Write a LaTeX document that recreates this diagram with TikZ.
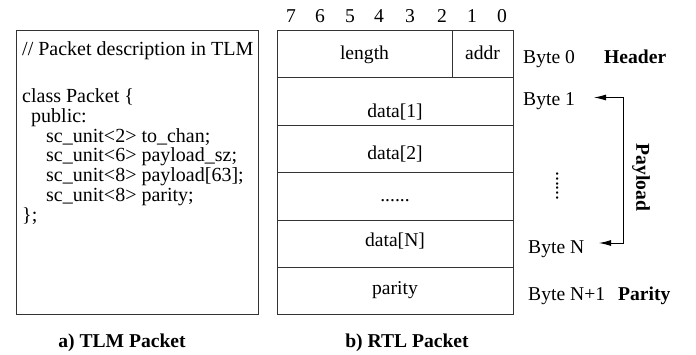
\documentclass[tikz,border=0pt]{standalone}
\usepackage{fontspec}
\setmainfont{Liberation Serif}
\usetikzlibrary{arrows.meta}
\begin{document}
\begin{tikzpicture}[x=1pt,y=-1pt,
  every node/.style={inner sep=0pt, font=\fontsize{19.6}{20}\selectfont},
  box/.style={draw=black!80, line width=1pt},
  code/.style={anchor=base west},
  src/.style={anchor=base west, font=\fontsize{20}{20}\selectfont},
  lbl/.style={anchor=base},
  bold/.style={anchor=base west, font=\fontsize{19.6}{20}\selectfont\bfseries},
  brace/.style={draw=black, line width=0.9pt, {Latex[length=12pt,width=6pt]}-{Latex[length=12pt,width=6pt]}}
]
\useasboundingbox (0,0) rectangle (696,354);

% left box
\draw[box] (16,30) rectangle (258,314);
\node[src] (c0) at (22,55) {// Packet description in TLM};
\node[src] (c1) at (22,102) {class Packet \{};
\node[src] (c2) at (31,122) {public:};
\node[src] (c3) at (46,142) {sc\_unit<2> to\_chan;};
\node[src] (c4) at (46,161) {sc\_unit<6> payload\_sz;};
\node[src] (c5) at (46,181) {sc\_unit<8> payload[63];};
\node[src] (c6) at (46,201) {sc\_unit<8> parity;};
\node[src] (c7) at (22,221) {\};};

% right box
\draw[box] (277,30) rectangle (513,314);
\draw[box] (277,77) -- (513,77);
\draw[box] (277,125) -- (513,125);
\draw[box] (277,172) -- (513,172);
\draw[box] (277,220) -- (513,220);
\draw[box] (277,267) -- (513,267);
\draw[box] (452,30) -- (452,77);

% bit numbers
\foreach \b/\x in {7/291,6/320,5/350,4/379,3/410,2/442,1/472,0/502}
  \node[lbl] (bit\b) at (\x,22) {\b};

\node[lbl] (len) at (364.5,59) {length};
\node[lbl] (addr) at (482.5,59) {addr};
\node[lbl] (d1) at (395,117) {data[1]};
\node[lbl] (d2) at (395,159) {data[2]};
\node[lbl] (dd) at (395,201) {......};
\node[lbl] (dn) at (395,246) {data[N]};
\node[lbl] (par) at (395,294) {parity};

% byte labels
\node[code] (b0) at (523,63) {Byte 0};
\node[bold] (hdr) at (604,63) {Header};
\node[code] (b1) at (523,105) {Byte 1};
\node[anchor=base, rotate=90] (vd) at (558,186) {......};
\node[code] (bn) at (528,253) {Byte N};
\node[code] (bn1) at (528,300) {Byte N+1};
\node[bold] (pty) at (618,300) {Parity};

\coordinate (t1) at (594,97.5);
\coordinate (k1) at (623,97.5);
\coordinate (k2) at (623,243);
\coordinate (t2) at (599,243);
\draw[brace] (t1) -- (k1) -- (k2) -- (t2);
\node[rotate=-90, font=\fontsize{19.6}{20}\selectfont\bfseries] (pl) at (641,177.5) {Payload};

% captions
\node[lbl, font=\fontsize{19.6}{20}\selectfont\bfseries] (capa) at (122,347) {a) TLM Packet};
\node[lbl, font=\fontsize{19.6}{20}\selectfont\bfseries] (capb) at (407,347) {b) RTL Packet};
\end{tikzpicture}
\end{document}
